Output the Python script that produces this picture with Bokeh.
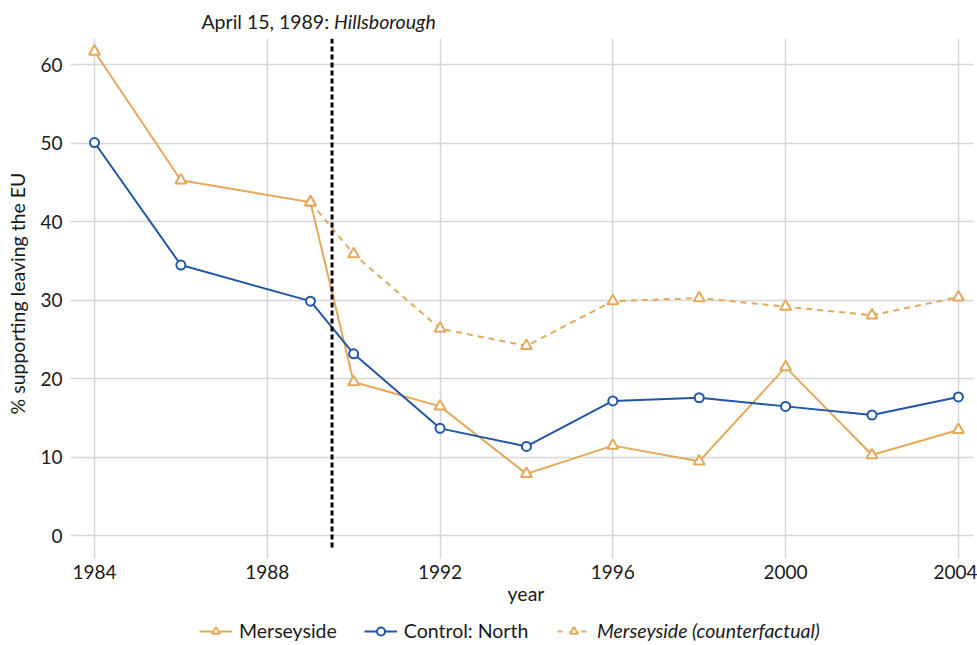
from bokeh.plotting import figure
from bokeh.layouts import column
from bokeh.models import Range1d, Label, Legend, LegendItem, Span, FixedTicker
from bokeh.embed import file_html
from bokeh.resources import INLINE

years = [1984, 1986, 1989, 1990, 1992, 1994, 1996, 1998, 2000, 2002, 2004]
merseyside = [61.7, 45.3, 42.5, 19.6, 16.5, 7.9, 11.5, 9.5, 21.5, 10.3, 13.5]
control_north = [50.1, 34.5, 29.9, 23.2, 13.7, 11.4, 17.2, 17.6, 16.5, 15.4, 17.7]
cf_years = [1989, 1990, 1992, 1994, 1996, 1998, 2000, 2002, 2004]
counterfactual = [42.5, 35.9, 26.4, 24.2, 29.9, 30.3, 29.2, 28.1, 30.4]
event_year = 1989.5
x_ticks = [1984, 1988, 1992, 1996, 2000, 2004]
y_ticks = [0, 10, 20, 30, 40, 50, 60]

ORANGE = "#E4A85A"
BLUE = "#2155A6"
FONT = "Lato"
GRID = "#d6d6d6"
TXT = "#1a1a1a"
W = 977

x_range = Range1d(1983.63, 2004.35)

# ---- title strip ----
tf = figure(width=W, height=38, output_backend="svg", toolbar_location=None,
            x_range=x_range, y_range=Range1d(0, 38),
            x_axis_location=None, y_axis_location=None,
            min_border_left=78, min_border_right=4, min_border_top=0, min_border_bottom=0)
tf.outline_line_color = None
tf.xgrid.visible = False
tf.ygrid.visible = False
tf.add_layout(Label(x=event_year, y=17, text="April 15, 1989:", text_align="right",
                    text_baseline="middle", x_offset=-3, text_font=FONT,
                    text_font_size="19.5px", text_color=TXT))
tf.add_layout(Label(x=event_year, y=17, text="Hillsborough", text_align="left",
                    text_baseline="middle", x_offset=2, text_font=FONT,
                    text_font_size="19.5px", text_font_style="italic", text_color=TXT))

# ---- main plot ----
p = figure(width=W, height=572, output_backend="svg", toolbar_location=None,
           x_range=x_range, y_range=Range1d(-1.6, 63.35),
           min_border_left=78, min_border_right=4, min_border_top=0, min_border_bottom=62)
p.outline_line_color = None

for ax in (p.xaxis[0], p.yaxis[0]):
    ax.axis_line_color = None
    ax.major_tick_line_color = GRID
    ax.major_tick_line_width = 1.5
    ax.minor_tick_line_color = None
    ax.major_tick_in = 0
    ax.major_label_text_font = FONT
    ax.major_label_text_font_size = "19px"
    ax.major_label_text_color = TXT
    ax.axis_label_text_font = FONT
    ax.axis_label_text_font_style = "normal"
    ax.axis_label_text_color = TXT

p.xaxis[0].ticker = FixedTicker(ticks=x_ticks)
p.yaxis[0].ticker = FixedTicker(ticks=y_ticks)
p.xaxis[0].major_tick_out = 10
p.yaxis[0].major_tick_out = 8
p.xaxis[0].major_label_standoff = 6
p.yaxis[0].major_label_standoff = 8
p.xaxis.axis_label = "year"
p.xaxis[0].axis_label_text_font_size = "19.5px"
p.xaxis[0].axis_label_standoff = 0
p.yaxis.axis_label = "% supporting leaving the EU"
p.yaxis[0].axis_label_text_font_size = "19.5px"
p.yaxis[0].axis_label_standoff = 8

p.xgrid.grid_line_color = GRID
p.ygrid.grid_line_color = GRID
p.xgrid.grid_line_width = 1.5
p.ygrid.grid_line_width = 1.5
p.xgrid.ticker = FixedTicker(ticks=x_ticks)
p.ygrid.ticker = FixedTicker(ticks=y_ticks)

LINE_CF = dict(line_color=ORANGE, line_width=2, line_dash="6 5")
LINE_M = dict(line_color=ORANGE, line_width=2)
LINE_C = dict(line_color=BLUE, line_width=2)
PT_M = dict(marker="triangle", size=11, line_color=ORANGE, line_width=2, fill_color="white")
PT_C = dict(marker="circle", size=9, line_color=BLUE, line_width=2, fill_color="white")

p.line(cf_years, counterfactual, **LINE_CF)
p.scatter(cf_years, counterfactual, **PT_M)
p.line(years, merseyside, **LINE_M)
p.scatter(years, merseyside, **PT_M)
p.line(years, control_north, **LINE_C)
p.scatter(years, control_north, **PT_C)

p.add_layout(Span(location=event_year, dimension="height", line_color="black",
                  line_width=3, line_dash="5 3"))

# ---- legend strip (frame aligned with main plot by the column layout) ----
lf = figure(width=W, height=35, output_backend="svg", toolbar_location=None,
            x_range=Range1d(0, 100), y_range=Range1d(0, 35),
            x_axis_location=None, y_axis_location=None,
            min_border_left=78, min_border_right=4, min_border_top=0, min_border_bottom=0)
lf.outline_line_color = None
lf.xgrid.visible = False
lf.ygrid.visible = False
# proxies for the legend: the series drawn here fall outside this strip's x range
lm_line = lf.line(years, merseyside, **LINE_M)
lm_pt = lf.scatter(years, merseyside, **{**PT_M, "size": 8})
lc_line = lf.line(years, control_north, **LINE_C)
lc_pt = lf.scatter(years, control_north, **{**PT_C, "size": 7})
lcf_line = lf.line(cf_years, counterfactual, **{**LINE_CF, "line_dash": "5 7"})
lcf_pt = lf.scatter(cf_years, counterfactual, **{**PT_M, "size": 8})


def mk_legend(items, loc, style):
    lg = Legend(items=items, location=loc, orientation="horizontal",
                border_line_color=None, background_fill_alpha=0, padding=0, margin=0,
                spacing=27, glyph_width=33, glyph_height=20, label_height=20,
                label_standoff=7, label_text_font=FONT, label_text_font_size="19.5px",
                label_text_font_style=style, label_text_color=TXT)
    lf.add_layout(lg, "center")


mk_legend([LegendItem(label="Merseyside", renderers=[lm_line, lm_pt]),
           LegendItem(label="Control: North", renderers=[lc_line, lc_pt])], (121, 3), "normal")
mk_legend([LegendItem(label="Merseyside (counterfactual)", renderers=[lcf_line, lcf_pt])],
          (479, 3), "italic")

layout = column(tf, p, lf, spacing=0)
open("out.html", "w").write(file_html(layout, INLINE))
